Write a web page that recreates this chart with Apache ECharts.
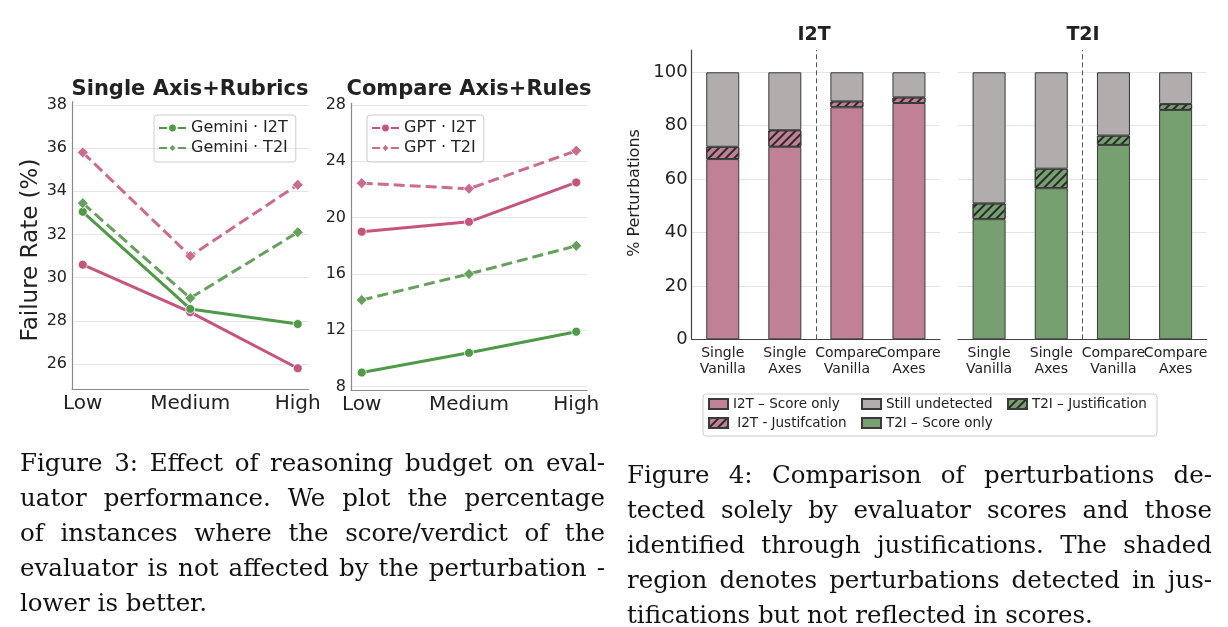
<!DOCTYPE html>
<html>
<head>
<meta charset="utf-8">
<script src="https://cdn.jsdelivr.net/npm/echarts@6/dist/echarts.min.js"></script>
<style>
    html, body { margin: 0; padding: 0; background: #fff; }
    #chart { position: absolute; left: 0; top: 0; width: 1228px; height: 627px; }
    .cap { position: absolute; width: 585px; font-family: 'DejaVu Serif', serif; font-size: 24.5px; color: #111; line-height: 35px; }
    .cap div { white-space: nowrap; text-align: justify; text-align-last: justify; }
    .cap div.last { text-align-last: left; }
</style>
</head>
<body>
<div id="chart"></div>
<div class="cap" style="left:20px; top:445px;">
    <div>Figure 3: Effect of reasoning budget on eval-</div>
    <div>uator performance. We plot the percentage</div>
    <div>of instances where the score/verdict of the</div>
    <div>evaluator is not affected by the perturbation -</div>
    <div class="last">lower is better.</div>
</div>
<div class="cap" style="left:627px; top:457px;">
    <div>Figure 4: Comparison of perturbations de-</div>
    <div>tected solely by evaluator scores and those</div>
    <div>identified through justifications. The shaded</div>
    <div>region denotes perturbations detected in jus-</div>
    <div class="last">tifications but not reflected in scores.</div>
</div>
<script>
    // reasoning budget (figure 3)
    const budgets = ['Low', 'Medium', 'High'];
    // Single Axis+Rubrics
    const singleGptI2T = [30.6, 28.4, 25.8];
    const singleGptT2I = [35.8, 31.0, 34.3];
    const singleGemI2T = [33.05, 28.55, 27.85];
    const singleGemT2I = [33.45, 29.05, 32.1];
    // Compare Axis+Rules
    const compareGptI2T = [19.0, 19.7, 22.5];
    const compareGptT2I = [22.45, 22.05, 24.75];
    const compareGemI2T = [9.0, 10.4, 11.9];
    const compareGemT2I = [14.15, 16.0, 18.0];
    const singleTicks = [26, 28, 30, 32, 34, 36, 38];
    const compareTicks = [8, 12, 16, 20, 24, 28];

    // perturbations (figure 4)
    const setups = ['Single\nVanilla', 'Single\nAxes', 'Compare\nVanilla', 'Compare\nAxes'];
    const i2tScore = [67.5, 72.1, 86.9, 88.5];
    const i2tJust = [4.6, 6.2, 2.2, 2.1];
    const i2tUndet = [27.9, 21.7, 10.9, 9.4];
    const t2iScore = [45.0, 56.6, 72.8, 85.9];
    const t2iJust = [5.9, 7.3, 3.5, 2.2];
    const t2iUndet = [49.1, 36.1, 23.7, 11.9];
    const pctTicks = [0, 20, 40, 60, 80, 100];

    const FONT = 'DejaVu Sans';
    const PINK = '#c5557f', PINK_D = '#cb6c8f';
    const GREEN = '#4e9a47', GREEN_D = '#65a05c';
    const BAR_PINK = '#c08196', BAR_GRAY = '#b0adac', BAR_GREEN = '#76a06f';

    const hatch = {
        symbol: 'rect', symbolSize: 1,
        dashArrayX: [1, 0], dashArrayY: [2, 4],
        rotation: -Math.PI / 4, color: '#2a2a2a'
    };

    const myEcharts = echarts.init(document.getElementById('chart'), null, {renderer: 'canvas'});

    // line series for figure 3
    function lineSeries(name, data, idx, color, dashed) {
        return {
            type: 'line', name: name,
            xAxisIndex: idx, yAxisIndex: idx,
            data: data.map((v, i) => [i, v]),
            symbol: dashed ? 'diamond' : 'circle',
            symbolSize: dashed ? 11 : 9,
            lineStyle: {color: color, width: 3, type: dashed ? [11, 5] : 'solid'},
            itemStyle: {color: color, borderColor: '#fff', borderWidth: 0.8},
            emphasis: {disabled: true}
        };
    }

    // stacked bar series for figure 4
    function barSeries(name, data, idx, color, stack, decal) {
        const s = {
            type: 'bar', name: name, stack: stack,
            xAxisIndex: idx, yAxisIndex: idx,
            data: data,
            barWidth: 33,
            itemStyle: {color: color, borderColor: '#3a3a3a', borderWidth: 1},
            emphasis: {disabled: true}
        };
        if (decal) s.itemStyle.decal = decal;
        return s;
    }

    function lineX(idx) {
        return {
            type: 'value', gridIndex: idx, min: -0.1, max: 2.1,
            axisLine: {show: true, onZero: false, lineStyle: {color: '#8a8a8a', width: 1.2}},
            axisTick: {show: false, customValues: [0, 1, 2]},
            splitLine: {show: false},
            axisLabel: {customValues: [0, 1, 2], formatter: v => budgets[v], fontFamily: FONT, fontSize: 20, color: '#222', margin: 5}
        };
    }
    function lineY(idx, min, max, ticks) {
        return {
            type: 'value', gridIndex: idx, min: min, max: max,
            axisLine: {show: true, onZero: false, lineStyle: {color: '#8a8a8a', width: 1.2}},
            axisTick: {show: false, customValues: ticks},
            splitLine: {show: true, lineStyle: {color: '#e6e6e6', width: 1}},
            axisLabel: {customValues: ticks, fontFamily: FONT, fontSize: 16, color: '#222', margin: 5}
        };
    }
    function barX(idx) {
        return {
            type: 'category', gridIndex: idx, data: setups,
            axisLine: {show: true, onZero: false, lineStyle: {color: '#444', width: 1.2}},
            axisTick: {show: false},
            splitLine: {show: false},
            axisLabel: {interval: 0, fontFamily: FONT, fontSize: 14, lineHeight: 16, color: '#222', margin: 6}
        };
    }
    // hidden axis, only used to place the dashed separator between the two groups
    function sepX(idx) {
        return {type: 'value', gridIndex: idx, min: -0.5, max: 3.5, show: false};
    }
    function barY(idx, showLabels) {
        return {
            type: 'value', gridIndex: idx, min: 0, max: 108.35,
            axisLine: {show: showLabels, onZero: false, lineStyle: {color: '#444', width: 1.2}},
            axisTick: {show: false, customValues: pctTicks},
            splitLine: {show: true, lineStyle: {color: '#e6e6e6', width: 1}},
            axisLabel: {show: showLabels, customValues: pctTicks, fontFamily: FONT, fontSize: 18, color: '#222', margin: 4}
        };
    }

    function sepSeries(xIdx, yIdx) {
        return {
            type: 'line', name: 'sep', xAxisIndex: xIdx, yAxisIndex: yIdx,
            data: [[-1, -1]], symbol: 'none', silent: true,
            markLine: {
                silent: true, symbol: 'none', label: {show: false},
                lineStyle: {type: [5, 3], color: '#555', width: 1},
                data: [{xAxis: 1.5}]
            }
        };
    }

    const series = [
        lineSeries('GPT · I2T', singleGptI2T, 0, PINK, false),
        lineSeries('GPT · T2I', singleGptT2I, 0, PINK_D, true),
        lineSeries('Gemini · I2T', singleGemI2T, 0, GREEN, false),
        lineSeries('Gemini · T2I', singleGemT2I, 0, GREEN_D, true),
        lineSeries('GPT · I2T', compareGptI2T, 1, PINK, false),
        lineSeries('GPT · T2I', compareGptT2I, 1, PINK_D, true),
        lineSeries('Gemini · I2T', compareGemI2T, 1, GREEN, false),
        lineSeries('Gemini · T2I', compareGemT2I, 1, GREEN_D, true),
        barSeries('I2T – Score only', i2tScore, 2, BAR_PINK, 'i2t'),
        barSeries('I2T - Justifcation', i2tJust, 2, BAR_PINK, 'i2t', hatch),
        barSeries('Still undetected', i2tUndet, 2, BAR_GRAY, 'i2t'),
        barSeries('T2I – Score only', t2iScore, 3, BAR_GREEN, 't2i'),
        barSeries('T2I – Justification', t2iJust, 3, BAR_GREEN, 't2i', hatch),
        barSeries('Still undetected', t2iUndet, 3, BAR_GRAY, 't2i'),
        sepSeries(4, 2),
        sepSeries(5, 3)
    ];

    const lineLegend = (left, names) => ({
        orient: 'vertical', left: left, top: 115, data: names,
        itemWidth: 27, itemHeight: 11, itemGap: 4, padding: [5, 8, 6, 4],
        borderColor: '#cccccc', borderWidth: 1, borderRadius: 3,
        selectedMode: false,
        textStyle: {fontFamily: FONT, fontSize: 16, lineHeight: 16, color: '#222'}
    });
    const barLegend = (left, names) => ({
        orient: 'vertical', left: left, top: 397, data: names,
        itemWidth: 19, itemHeight: 10, itemGap: 5, padding: 0,
        selectedMode: false, icon: 'rect',
        formatter: n => n === 'I2T - Justifcation' ? ' ' + n : n,
        textStyle: {fontFamily: FONT, fontSize: 13.5, lineHeight: 14, color: '#222'}
    });

    const txt = (x, y, text, size, bold, rot) => ({
        type: 'text', x: x, y: y, rotation: rot || 0, silent: true,
        style: {text: text, fontFamily: FONT, fontSize: size, fontWeight: bold ? 'bold' : 'normal',
            fill: '#222', align: 'center', verticalAlign: 'middle'}
    });

    myEcharts.setOption({
        animation: false,
        grid: [
            {left: 72, top: 101.7, width: 236.5, height: 287.3},
            {left: 351, top: 103.3, width: 236, height: 286.7},
            {left: 691.7, top: 50, width: 248.3, height: 289.3},
            {left: 958, top: 50, width: 248.7, height: 289.3}
        ],
        xAxis: [lineX(0), lineX(1), barX(2), barX(3), sepX(2), sepX(3)],
        yAxis: [
            lineY(0, 24.84, 38.15, singleTicks),
            lineY(1, 7.76, 28.12, compareTicks),
            barY(2, true),
            barY(3, false)
        ],
        legend: [
            lineLegend(154, ['Gemini · I2T', 'Gemini · T2I']),
            lineLegend(367, ['GPT · I2T', 'GPT · T2I']),
            barLegend(708, ['I2T – Score only', 'I2T - Justifcation']),
            barLegend(861, ['Still undetected', 'T2I – Score only']),
            barLegend(1007, ['T2I – Justification'])
        ],
        graphic: [
            txt(190, 90, 'Single Axis+Rubrics', 21, true),
            txt(469, 90, 'Compare Axis+Rules', 21, true),
            txt(31, 250, 'Failure Rate (%)', 23, false, Math.PI / 2),
            txt(814, 35, 'I2T', 19, true),
            txt(1083, 35, 'T2I', 19, true),
            txt(635, 193, '% Perturbations', 16, false, Math.PI / 2),
            {
                type: 'rect', silent: true, z: -1,
                shape: {x: 703, y: 394, width: 454, height: 42, r: 3},
                style: {fill: '#fff', stroke: '#cccccc', lineWidth: 1}
            }
        ],
        series: series
    });
    window.onresize = myEcharts.resize;
</script>
</body>
</html>
